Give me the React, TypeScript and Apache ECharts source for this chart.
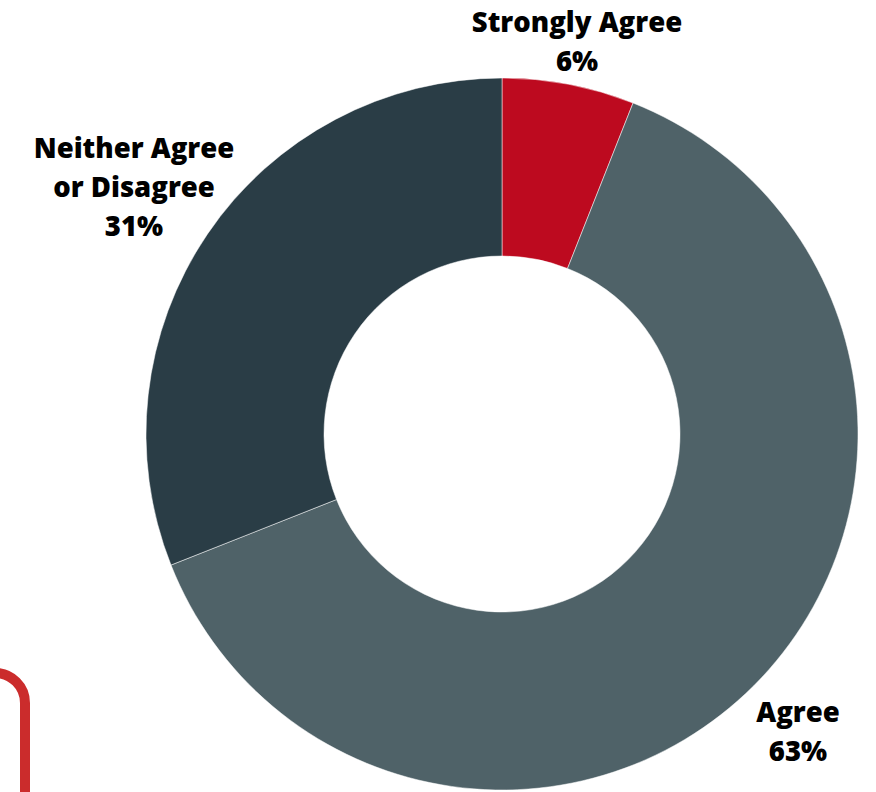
import React, { useEffect, useRef } from "react";
import * as echarts from "echarts";

const categories = ["Strongly Agree", "Agree", "Neither Agree\nor Disagree"];
const values = [6, 63, 31];
const colors = ["#bd0a1f", "#4f6268", "#2a3d46"];
const labelSpots = [
  [577, 41],
  [798, 731],
  [134, 186],
];

export default function App() {
  const ref = useRef<HTMLDivElement>(null);
  useEffect(() => {
    if (!ref.current) return;
    const chart = echarts.init(ref.current, null, { renderer: "svg" });
    chart.setOption({
      animation: false,
      backgroundColor: "#ffffff",
      graphic: [
        {
          type: "rect",
          shape: { x: -100, y: 673, width: 125, height: 220, r: 30 },
          style: { fill: "none", stroke: "#cb2c2c", lineWidth: 10 },
          z: 0,
        },
      ],
      series: [
        {
          type: "pie",
          center: [502, 434],
          radius: [178, 356],
          startAngle: 90,
          clockwise: true,
          avoidLabelOverlap: false,
          itemStyle: { borderColor: "#ffffff", borderWidth: 0.5 },
          label: {
            show: true,
            position: "outside",
            formatter: (p: any) => `${p.name}\n${p.value}%`,
            color: "#000000",
            fontFamily: "Open Sans",
            fontWeight: 800,
            fontSize: 27.5,
            lineHeight: 39,
            align: "center",
          },
          labelLine: { show: false },
          labelLayout: (p: any) => ({
            x: labelSpots[p.dataIndex][0],
            y: labelSpots[p.dataIndex][1],
            align: "center",
            verticalAlign: "middle",
          }),
          emphasis: { disabled: true },
          data: categories.map((c, i) => ({
            name: c,
            value: values[i],
            itemStyle: { color: colors[i] },
          })),
        },
      ],
    });
    return () => chart.dispose();
  }, []);
  return (
    <div
      ref={ref}
      style={{ position: "absolute", left: 0, top: 0, width: 876, height: 792 }}
    />
  );
}
